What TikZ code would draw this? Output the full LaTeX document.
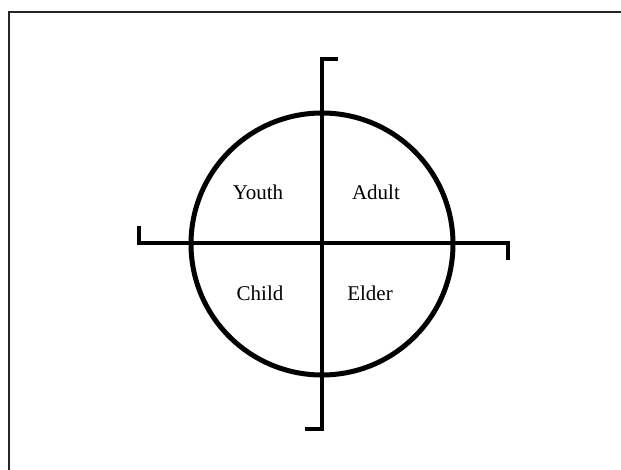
\documentclass[tikz,border=0pt]{standalone}
\usepackage{fontspec}
\setmainfont{Liberation Serif}
\begin{document}
\begin{tikzpicture}[x=1pt,y=-1pt,
  axis/.style={line width=4pt,line cap=butt,line join=miter},
  ring/.style={line width=5pt},
  quad/.style={font=\fontsize{21}{24}\selectfont,inner sep=0pt}]
\useasboundingbox (0,0) rectangle (621,469);
\fill[white] (0,0) rectangle (621,469);
\draw[line width=1.5pt,black!85] (9,480) -- (9,12) -- (630,12);
\coordinate (c) at (322,244);
\draw[ring] (c) circle[radius=131];
% vertical axis with ticks
\coordinate (vt) at (338,59);
\coordinate (vb) at (305,429);
\draw[axis] (vt) -- (322,59) -- (322,429) -- (vb);
% horizontal axis with ticks
\coordinate (hl) at (139,226);
\coordinate (hr) at (508,260);
\draw[axis] (hl) -- (139,243) -- (508,243) -- (hr);
\node[quad] (youth) at (258,192) {Youth};
\node[quad] (adult) at (376,192) {Adult};
\node[quad] (child) at (260,293) {Child};
\node[quad] (elder) at (370,293) {Elder};
\end{tikzpicture}
\end{document}
